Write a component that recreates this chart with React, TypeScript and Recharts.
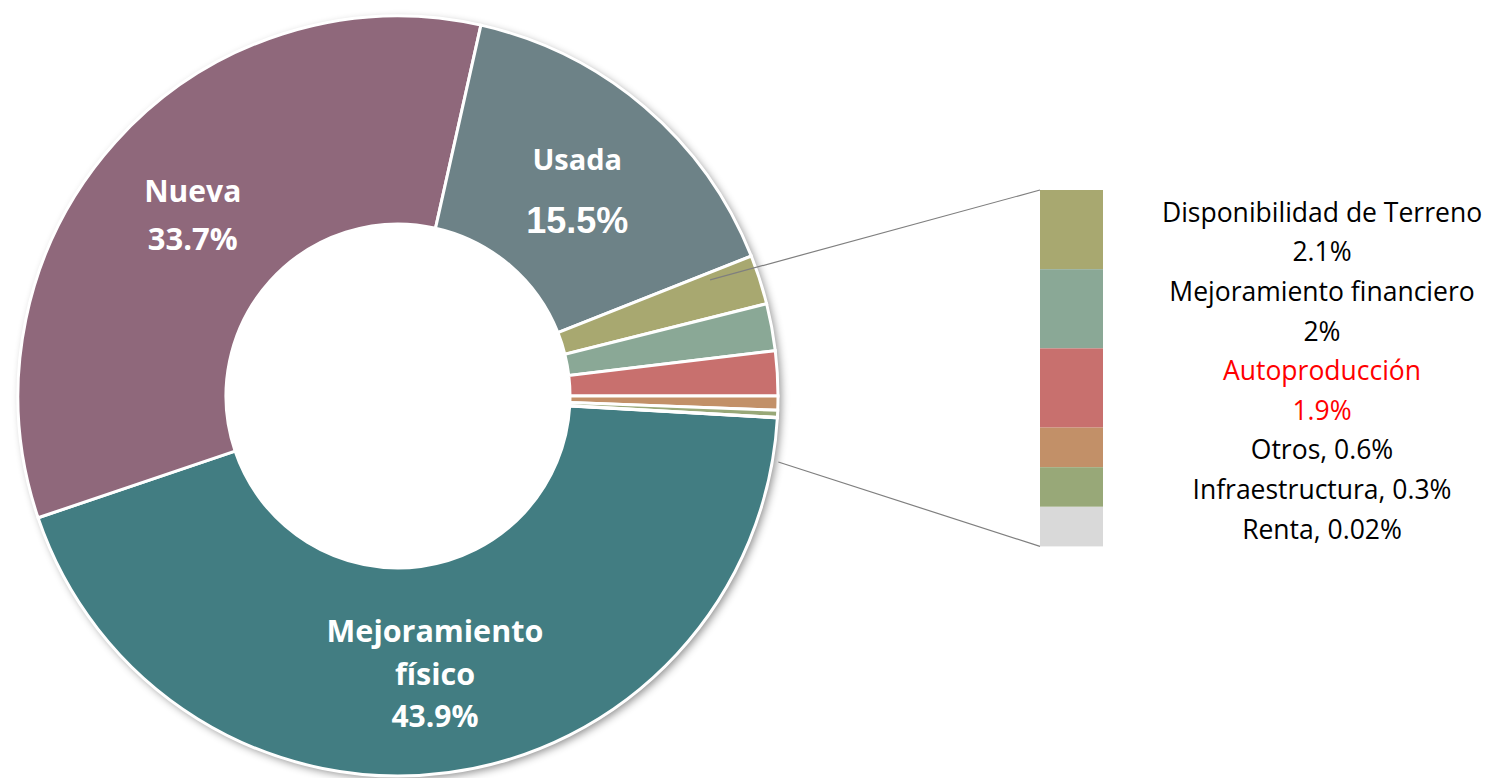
import React from 'react';
import { PieChart, Pie, Cell, Customized } from 'recharts';

const categories = [
  'Mejoramiento físico',
  'Nueva',
  'Usada',
  'Disponibilidad de Terreno',
  'Mejoramiento financiero',
  'Autoproducción',
  'Otros',
  'Infraestructura',
  'Renta',
];
const values = [43.9, 33.7, 15.5, 2.1, 2, 1.9, 0.6, 0.3, 0.02];
const valueLabels = ['43.9%', '33.7%', '15.5%', '2.1%', '2%', '1.9%', '0.6%', '0.3%', '0.02%'];
const colors = ['#427D82', '#8F687B', '#6D8287', '#A8A870', '#8AA896', '#C8706E', '#C29068', '#98A878', '#D9D9D9'];

// Inner slice labels (first three slices)
const sliceLabelLines: string[][] = [
  ['Mejoramiento', 'físico', '43.9%'],
  ['Nueva', '33.7%'],
  ['Usada', '15.5%'],
];
// Right-hand list for the small slices
const legendLines: string[][] = [
  ['Disponibilidad de Terreno', '2.1%'],
  ['Mejoramiento financiero', '2%'],
  ['Autoproducción', '1.9%'],
  ['Otros, 0.6%'],
  ['Infraestructura, 0.3%'],
  ['Renta, 0.02%'],
];
const highlighted = 'Autoproducción';

const data = categories.map((name, i) => ({ name, value: values[i], label: valueLabels[i] }));

const W = 1491;
const H = 778;
const CX = 398;
const CY = 396;
const R_OUT = 380;
const R_IN = 172;
const START = -3.3;

const BOX_X = 1040;
const BOX_W = 63;
const LINE_H = 39.6;
const BOX_TOP = 190;
const TEXT_X = 1322;

const labelStyle: Record<number, { gap: number; sizes: number[]; fonts: string[]; dy: number }> = {
  0: { gap: 43, sizes: [30.5, 30.5, 30], fonts: ['o', 'o', 'o'], dy: 3 },
  1: { gap: 48, sizes: [30, 31], fonts: ['o', 'o'], dy: 3 },
  2: { gap: 62, sizes: [29, 36], fonts: ['o', 'l'], dy: 3 },
};
const FONT_MAP: Record<string, string> = {
  o: "'Open Sans', sans-serif",
  l: "'Liberation Sans', Arial, sans-serif",
};

const RAD = Math.PI / 180;

const renderSliceLabel = (props: any) => {
  const { cx, cy, midAngle, innerRadius, outerRadius, index } = props;
  if (index === 3) {
    // connector from inside this slice to the top of the side list
    const a = 20.4 * RAD;
    const px = cx + 333 * Math.cos(a);
    const py = cy - 333 * Math.sin(a);
    return (
      <line key="conn-top" x1={px} y1={py} x2={BOX_X} y2={BOX_TOP} stroke="#7F7F7F" strokeWidth={1.2} />
    );
  }
  const lines = sliceLabelLines[index];
  if (!lines) return null;
  const st = labelStyle[index];
  const r = (innerRadius + outerRadius) / 2;
  const x = cx + r * Math.cos(-midAngle * RAD);
  const y = cy + r * Math.sin(-midAngle * RAD) + st.dy;
  const top = y - ((lines.length - 1) * st.gap) / 2;
  return (
    <g key={`lbl-${index}`}>
      {lines.map((t, j) => (
        <text
          key={j}
          x={x}
          y={top + j * st.gap}
          textAnchor="middle"
          dominantBaseline="central"
          fill="#ffffff"
          fontFamily={FONT_MAP[st.fonts[j]]}
          fontWeight={700}
          fontSize={st.sizes[j]}
        >
          {t}
        </text>
      ))}
    </g>
  );
};

const Shadow = () => (
  <g>
    <defs>
      <filter id="pieShadow" x="-10%" y="-10%" width="120%" height="120%">
        <feDropShadow dx="3" dy="3" stdDeviation="4" floodColor="#000" floodOpacity="0.45" />
      </filter>
    </defs>
    <circle cx={CX} cy={CY} r={R_OUT} fill="#ffffff" filter="url(#pieShadow)" />
  </g>
);

const SideList = () => {
  let y = BOX_TOP;
  const items = legendLines.map((lines, k) => {
    const idx = k + 3;
    const h = lines.length * LINE_H;
    const y0 = y;
    y += h;
    const isRed = categories[idx] === highlighted;
    return (
      <g key={k}>
        <rect x={BOX_X} y={y0} width={BOX_W} height={h} fill={colors[idx]} />
        {lines.map((t, j) => (
          <text
            key={j}
            x={TEXT_X}
            y={y0 + j * LINE_H + LINE_H / 2 + 2}
            textAnchor="middle"
            dominantBaseline="central"
            fill={isRed ? '#FF0000' : '#000000'}
            fontFamily="'Open Sans', sans-serif"
            fontSize={26.5}
          >
            {t}
          </text>
        ))}
      </g>
    );
  });
  const bottom = y;
  const a2 = -9.85 * RAD;
  const p2 = { x: CX + 386 * Math.cos(a2), y: CY - 386 * Math.sin(a2) };
  return (
    <g>
      <line x1={p2.x} y1={p2.y} x2={BOX_X} y2={bottom} stroke="#7F7F7F" strokeWidth={1.2} />
      {items}
    </g>
  );
};

export default function App() {
  return (
    <div style={{ position: 'absolute', left: 0, top: 0, width: W, height: H, background: '#fff' }}>
      <PieChart width={W} height={H} margin={{ top: 0, right: 0, bottom: 0, left: 0 }}>
        <Customized component={Shadow} />
        <Pie
          data={data}
          dataKey="value"
          nameKey="name"
          cx={CX}
          cy={CY}
          innerRadius={R_IN}
          outerRadius={R_OUT}
          startAngle={START}
          endAngle={START - 360}
          stroke="#ffffff"
          strokeWidth={3}
          label={renderSliceLabel}
          labelLine={false}
          isAnimationActive={false}
        >
          {data.map((d, i) => (
            <Cell key={d.name} fill={colors[i]} />
          ))}
        </Pie>
        <Customized component={SideList} />
      </PieChart>
    </div>
  );
}
